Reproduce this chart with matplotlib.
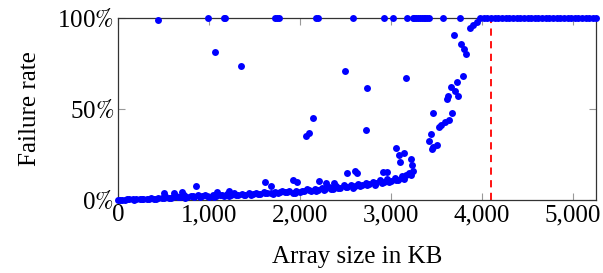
import matplotlib
matplotlib.use("Agg")
import matplotlib.pyplot as plt
from matplotlib.ticker import FuncFormatter

plt.rcParams['font.family'] = ['Liberation Serif', 'DejaVu Serif']
plt.rcParams['mathtext.fontset'] = 'stix'

# основная "полоса" низких значений
band_x = [0, 40, 80, 120, 160, 200, 240, 280, 320, 360, 400, 440, 480, 520, 560, 600,
          640, 680, 720, 760, 800, 840, 880, 920, 960, 1000, 1040, 1080, 1120, 1160, 1200,
          1240, 1280, 1320, 1360, 1400, 1440, 1480, 1520, 1560, 1600, 1640, 1680, 1720,
          1760, 1800, 1840, 1880, 1920, 1960, 2000, 2040, 2080, 2120, 2160, 2200, 2240,
          2280, 2320, 2360, 2400, 2440, 2480, 2520, 2560, 2600, 2640, 2680, 2720, 2760,
          2800, 2840, 2880, 2920, 2960, 3000, 3040, 3080, 3120, 3160, 3200, 3240]
band_y = [0.0, 0.002, 0.0, 0.004, 0.003, 0.006, 0.004, 0.008, 0.006, 0.01, 0.008, 0.012,
          0.01, 0.02, 0.012, 0.016, 0.022, 0.014, 0.03, 0.018, 0.024, 0.016, 0.028, 0.02,
          0.026, 0.018, 0.03, 0.022, 0.028, 0.02, 0.034, 0.03, 0.036, 0.028, 0.034, 0.03,
          0.036, 0.032, 0.04, 0.034, 0.044, 0.036, 0.04, 0.046, 0.038, 0.05, 0.042, 0.048,
          0.04, 0.052, 0.044, 0.05, 0.058, 0.052, 0.06, 0.055, 0.064, 0.058, 0.07, 0.062,
          0.075, 0.068, 0.08, 0.07, 0.085, 0.078, 0.09, 0.082, 0.095, 0.088, 0.1, 0.092,
          0.108, 0.098, 0.115, 0.105, 0.12, 0.112, 0.13, 0.14, 0.15, 0.16]

band2_x = [20, 100, 180, 260, 340, 420, 500, 580, 660, 740, 820, 900, 980, 1060, 1140,
           1220, 1300, 1380, 1460, 1540, 1620, 1700, 1780, 1860, 1940, 2020, 2100, 2180,
           2260, 2340, 2420, 2500, 2580, 2660, 2740, 2820, 2900, 2980, 3060, 3140, 3220]
band2_y = [0.001, 0.003, 0.002, 0.005, 0.004, 0.007, 0.009, 0.011, 0.018, 0.012, 0.02,
           0.015, 0.022, 0.019, 0.025, 0.021, 0.026, 0.03, 0.027, 0.033, 0.038, 0.034,
           0.042, 0.045, 0.038, 0.047, 0.053, 0.049, 0.056, 0.06, 0.065, 0.072, 0.067,
           0.076, 0.083, 0.085, 0.094, 0.1, 0.108, 0.118, 0.135]

# выбросы над полосой и промежуточные точки
mid_x = [507, 617, 705, 859, 1090, 1222, 1619, 1685, 1927, 1971, 2214, 2290, 2379, 2511,
         2599, 2621, 2907, 2951, 3050, 3084, 3139, 3095, 3216, 3227, 3117,
         1068, 1355, 2489, 2148, 2070, 2104, 2731, 2720, 3161]
mid_y = [0.037, 0.04, 0.045, 0.077, 0.045, 0.05, 0.099, 0.077, 0.11, 0.099, 0.105, 0.094,
         0.092, 0.148, 0.16, 0.15, 0.154, 0.154, 0.286, 0.247, 0.258, 0.21, 0.228, 0.19,
         0.12, 0.813, 0.736, 0.709, 0.451, 0.352, 0.368, 0.615, 0.385, 0.67]

# рост перед 4096 KB
rise_x = [3414, 3436, 3447, 3458, 3458, 3502, 3524, 3546, 3590, 3612, 3623, 3634, 3656,
          3667, 3700, 3722, 3733, 3789, 3689, 3767, 3800, 3822, 3865, 3900, 3940]
rise_y = [0.324, 0.36, 0.28, 0.29, 0.477, 0.30, 0.40, 0.41, 0.43, 0.555, 0.57, 0.44, 0.62,
          0.48, 0.60, 0.648, 0.57, 0.68, 0.907, 0.857, 0.83, 0.80, 0.945, 0.96, 0.98]

# точки на 100%
top_x = [440, 991, 1167, 1180, 1730, 1751, 1770, 2180, 2200, 2577, 2918, 3018, 3172,
         3238, 3258, 3278, 3298, 3318, 3338, 3358, 3378, 3398, 3418, 3568, 3755,
         3980, 4020, 4060, 4100, 4140, 4180, 4220, 4260, 4300, 4340, 4380, 4420, 4460,
         4500, 4540, 4580, 4620, 4660, 4700, 4740, 4780, 4820, 4860, 4900, 4940, 4980,
         5020, 5060, 5100, 5140, 5180, 5220, 5250]
top_y = [0.99] + [1.0] * 57

limit_kb = 4096

fig = plt.figure(figsize=(6.03, 2.73), dpi=100)
ax = fig.add_axes([0.1957, 0.2674, 0.7923, 0.6666])

ax.axvline(limit_kb, ymin=0, ymax=1, color='red', linestyle=(0, (4, 3)), linewidth=1.3, zorder=1)

for xs, ys in [(band_x, band_y), (band2_x, band2_y), (mid_x, mid_y),
               (rise_x, rise_y), (top_x, top_y)]:
    ax.plot(xs, ys, linestyle='none', marker='o', markersize=5.0,
            color='#0000ff', markeredgewidth=0, clip_on=False, zorder=3)

ax.set_xlim(0, 5250)
ax.set_ylim(0, 1)
ax.set_xticks([0, 1000, 2000, 3000, 4000, 5000])
ax.set_yticks([0, 0.5, 1.0])
ax.xaxis.set_major_formatter(FuncFormatter(lambda v, p: f"{int(v):,}"))
ax.yaxis.set_major_formatter(FuncFormatter(lambda v, p: f"{int(round(v * 100))}$\\%$"))
ax.tick_params(direction='in', length=5, width=0.8, color='#999999',
               top=True, right=True, labelsize=18, pad=3)
for s in ax.spines.values():
    s.set_color('#333333')
    s.set_linewidth(0.9)

ax.set_xlabel('Array size in KB', fontsize=18, labelpad=14)
ax.set_ylabel('Failure rate', fontsize=18, labelpad=12)

fig.savefig('out.png', dpi=100)
